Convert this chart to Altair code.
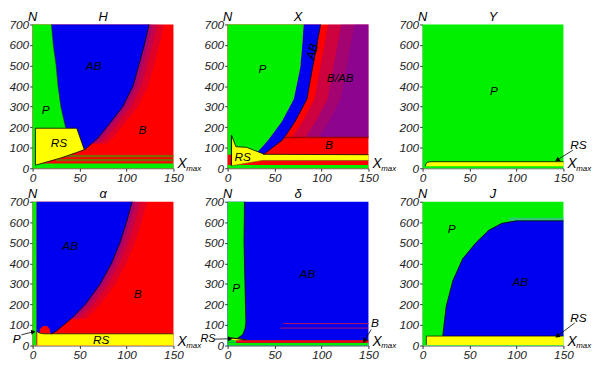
import altair as alt
import pandas as pd

# ---------------- colours / fonts ----------------
GREEN = "#00f000"
BLUE = "#0000f0"
RED = "#ff0000"
YEL = "#ffff00"
OLIVE = "#7d6800"
DKRED = "#a00000"
PURP = "#5a08d0"
FONT = "Liberation Sans"

# ---------------- data (x = X_max, n = N) ----------------
X_TICKS = [0, 50, 100, 150]
N_TICKS = [0, 100, 200, 300, 400, 500, 600, 700]
TITLES = ["H", "X", "Y", "α", "δ", "J"]

# --- panel H ---
H_P_N = [0, 90, 95, 150, 200, 300, 400, 500, 600, 700]
H_P_X = [3, 3, 50, 40, 35, 30, 27, 25, 22, 20]
H_AB_N = [92, 120, 150, 200, 300, 400, 500, 600, 700]
H_AB_L = [56, 50, 40, 35, 30, 27, 25, 22, 20]
H_AB_R = [56, 63, 70, 79, 96, 107, 113, 119, 124]
H_RS_X = [3, 30, 47, 55]
H_RS_TOP = [195, 195, 195, 91]
H_RS_BOT = [15, 50, 77, 91]
H_GREEN_N = [0, 23]
H_OLIVE_N = [[34, 45], [54, 64]]
H_OLIVE_X = [25, 150]

# --- panel X ---
X_P_N = [66, 80, 105, 136, 167, 229, 337, 490, 600, 700]
X_P_X = [30, 32, 37, 43, 48, 58, 70.5, 77.4, 79.5, 81]
X_AB_R = [38, 42, 49, 58, 63, 72, 84.5, 90.5, 95, 99]
X_BAB_N = [150, 167, 229, 337, 490, 600, 700]
X_BAB_L = [61, 63, 72, 84.5, 90.5, 95, 99]
X_RS_X = [4, 4.3, 8.8, 20, 37, 39, 150]
X_RS_TOP = [160, 160, 105, 102, 72, 68, 66]
X_RS_BOT = [12, 12.2, 15.8, 24.6, 38, 38, 38]
X_RED_N = [16, 38]
X_GREEN_N = [0, 16]

# --- panel Y ---
Y_RS_X = [3, 3.5, 5, 7, 10, 150]
Y_RS_TOP = [10, 22, 28, 31, 32, 32]
Y_RS_BOT = [10, 10, 10, 10, 10, 10]

# --- panel alpha ---
A_P_X = [0, 4]
A_AB_N = [57, 70, 130, 200, 300, 400, 500, 600, 700]
A_AB_R = [20, 25, 41, 56, 72, 84, 93, 100, 106]
A_BUMP_X = [7, 8, 10, 13, 16, 18, 19]
A_BUMP_TOP = [57, 80, 92, 96, 93, 82, 57]
A_RS_X = [5, 6, 8, 12, 150]
A_RS_TOP = [70, 64, 60, 57, 57]

# --- panel delta ---
D_P_N = [26, 37, 52, 80, 113, 200, 300, 500, 700]
D_P_X = [8, 11, 16, 18.5, 19.5, 19, 18.5, 17.5, 18]
D_RED_N = [14, 26]
D_RED_X = [9, 150]
D_RS_X = [3, 8, 20]
D_RS_TOP = [37, 35, 30]
D_RS_BOT = [31, 25, 28]
D_STREAK_N = [107, 85]
D_STREAK_X0 = [59, 56]

# --- panel J ---
J_AB_N = [46, 51, 190, 314, 422, 499, 561, 595, 607]
J_AB_L = [21.6, 21.6, 25.1, 32.1, 42.6, 56.5, 70.4, 84.4, 100]
J_FRINGE_N = [608, 622]
J_FRINGE_X = [92, 150]
J_RS_X = [4, 150]
J_RS_N = [3, 46]

# region labels: (text, x, n)
LAB_H = [("P", 14, 282), ("AB", 65, 499), ("RS", 28, 122), ("B", 117, 184)]
LAB_X = [("P", 37, 483), ("B/AB", 120, 437), ("B", 108, 111), ("RS", 16, 54)]
LAB_X_ROT = [("AB", 90, 568)]
LAB_Y = [("P", 76, 375), ("RS", 166, 111)]
LAB_A = [("AB", 40, 483), ("B", 112, 251), ("RS", 73, 26), ("P", -17, 30)]
LAB_D = [("P", 9, 282), ("AB", 85, 348), ("B", 157, 107)]
LAB_D_SMALL = [("RS", -21, 32)]
LAB_J = [("P", 31, 568), ("AB", 104, 308), ("RS", 166, 134)]

# arrows: (x0, n0, x1, n1)
ARR_Y = [(160, 88, 144, 42)]
ARR_A = [(-12, 52, 0, 66)]
ARR_D = [(-14, 31, 2, 33), (153, 78, 146, 26)]
ARR_J = [(162, 110, 144, 48)]

# ---------------- helpers ----------------
XS = alt.Scale(domain=[0, 150], nice=False, zero=False)
YS = alt.Scale(domain=[0, 700], nice=False, zero=False)
AXX = alt.Axis(values=X_TICKS, title=None, grid=False, labelFlush=False, labelOverlap=False)
AXY = alt.Axis(values=N_TICKS, title=None, grid=False, labelFlush=False, labelOverlap=False)


def X(f):
    return alt.X(f, type="quantitative", scale=XS, axis=AXX)


def Yc(f):
    return alt.Y(f, type="quantitative", scale=YS, axis=AXY)


def rects(rows):
    df = pd.DataFrame(rows, columns=["x", "x2", "n", "n2", "c"])
    return alt.Chart(df).mark_rect().encode(
        x=X("x"), x2="x2", y=Yc("n"), y2="n2", color=alt.Color("c:N", scale=None))


def harea(ns, lo, hi, color, opacity=1.0):
    df = pd.DataFrame({"n": ns, "lo": lo, "hi": hi})
    return alt.Chart(df).mark_area(orient="horizontal", color=color, opacity=opacity).encode(
        y=Yc("n"), x=X("lo"), x2="hi")


def varea(xs, top, bot, color):
    df = pd.DataFrame({"x": xs, "top": top, "bot": bot})
    return alt.Chart(df).mark_area(orient="vertical", color=color).encode(
        x=X("x"), y=Yc("top"), y2="bot")


def path(xs, ns, width=0.8, color="black"):
    df = pd.DataFrame({"x": xs, "n": ns, "i": list(range(len(xs)))})
    return alt.Chart(df).mark_line(color=color, strokeWidth=width).encode(
        x=X("x"), y=Yc("n"), order=alt.Order("i:Q"))


def labels(rows, angle=0, size=12):
    df = pd.DataFrame(rows, columns=["t", "x", "n"])
    kw = dict(font=FONT, fontStyle="italic", fontSize=size, color="black",
              align="center", baseline="middle")
    if angle:
        kw["angle"] = angle
    return alt.Chart(df).mark_text(**kw).encode(x=X("x"), y=Yc("n"), text="t:N")


def arrows(rows, angles):
    out = []
    for (x0, n0, x1, n1), ang in zip(rows, angles):
        out.append(path([x0, x1], [n0, n1], width=0.8))
        df = pd.DataFrame({"x": [x1], "n": [n1]})
        out.append(alt.Chart(df).mark_point(shape="triangle", filled=True, color="black",
                                             size=28, angle=ang, opacity=1).encode(
            x=X("x"), y=Yc("n")))
    return out


def fringe(ns, curve, bands):
    """Blue streak fringe just right of a boundary curve: bands = [(start, end, opacity)]."""
    out = []
    for a, b, op in bands:
        lo = [min(v + a, 150) for v in curve]
        hi = [min(v + b, 150) for v in curve]
        out.append(harea(ns, lo, hi, PURP, op))
    return out


def decor(title):
    t = pd.DataFrame({"x": [75], "n": [700], "t": [title]})
    nn = pd.DataFrame({"x": [0], "n": [700], "t": ["N"]})
    xm = pd.DataFrame({"x": [150], "n": [0], "t": ["X"]})
    mx = pd.DataFrame({"x": [150], "n": [0], "t": ["max"]})
    base = dict(font=FONT, fontStyle="italic", color="black", baseline="alphabetic")
    return [
        alt.Chart(t).mark_text(fontSize=13, dy=-4, **base).encode(x=X("x"), y=Yc("n"), text="t:N"),
        alt.Chart(nn).mark_text(fontSize=13, dy=-4, **base).encode(x=X("x"), y=Yc("n"), text="t:N"),
        alt.Chart(xm).mark_text(fontSize=14, dx=4, dy=0, align="left", **base).encode(x=X("x"), y=Yc("n"), text="t:N"),
        alt.Chart(mx).mark_text(fontSize=8, dx=13, dy=3, align="left", **base).encode(x=X("x"), y=Yc("n"), text="t:N"),
    ]


W, HGT = 143, 146


def panel(layers, title):
    return alt.layer(*layers, *decor(title)).properties(width=W, height=HGT)


FRINGE_BANDS = [(0, 4, 0.55), (4, 9, 0.35), (9, 16, 0.18)]

# ---------------- panel H ----------------
pH = panel([
    rects([(0, 150, 0, 700, RED),
           (0, 150, H_GREEN_N[0], H_GREEN_N[1], GREEN)] +
          [(H_OLIVE_X[0], H_OLIVE_X[1], a, b, OLIVE) for a, b in H_OLIVE_N]),
    *fringe(H_AB_N[1:], H_AB_R[1:], FRINGE_BANDS),
    harea(H_AB_N, H_AB_L, H_AB_R, BLUE),
    harea(H_P_N, [0] * len(H_P_N), H_P_X, GREEN),
    varea(H_RS_X, H_RS_TOP, H_RS_BOT, YEL),
    path(H_AB_R[::-1] + H_RS_X[2::-1], H_AB_N[::-1] + H_RS_BOT[2::-1]),
    path([H_RS_X[0], H_RS_X[0], H_RS_X[2], H_RS_X[3]],
         [H_RS_BOT[0], H_RS_TOP[0], H_RS_TOP[2], H_RS_TOP[3]]),
    path(H_AB_L[3:], H_AB_N[3:], width=0.5, color="#003300"),
    labels(LAB_H),
], "H")

# ---------------- panel X ----------------
pX = panel([
    rects([(0, 150, 0, 700, RED),
           (0, 150, X_GREEN_N[0], X_GREEN_N[1], GREEN)]),
    harea(X_BAB_N, [v + 8 for v in X_BAB_L], [150] * len(X_BAB_N), PURP, 0.3),
    harea(X_BAB_N, [v + 22 for v in X_BAB_L], [150] * len(X_BAB_N), PURP, 0.35),
    harea(X_BAB_N, [v + 36 for v in X_BAB_L], [150] * len(X_BAB_N), PURP, 0.3),
    harea(X_P_N, X_P_X, X_AB_R, BLUE),
    harea(X_P_N, [0] * len(X_P_N), X_P_X, GREEN),
    path([X_BAB_L[0], 150], [X_BAB_N[0], X_BAB_N[0]], width=1.5, color=DKRED),
    varea(X_RS_X, X_RS_TOP, X_RS_BOT, YEL),
    path(X_AB_R[::-1], X_P_N[::-1]),
    path([X_RS_X[0]] + X_RS_X[1:], [X_RS_BOT[0]] + X_RS_TOP[1:]),
    path([X_RS_X[0], X_RS_X[0]], [X_RS_BOT[0], X_RS_TOP[0]]),
    path([X_RS_X[0], X_RS_X[4], 150], [X_RS_BOT[0], X_RS_BOT[4], X_RS_BOT[6]], width=0.7, color="#7a5a00"),
    labels(LAB_X),
    labels(LAB_X_ROT, angle=285),
], "X")

# ---------------- panel Y ----------------
pY = panel([
    rects([(0, 150, 0, 700, GREEN)]),
    varea(Y_RS_X, Y_RS_TOP, Y_RS_BOT, YEL),
    path(Y_RS_X, Y_RS_TOP),
    labels(LAB_Y),
    *arrows(ARR_Y, [237]),
], "Y")

# ---------------- panel alpha ----------------
pA = panel([
    rects([(0, 150, 0, 700, RED)]),
    *fringe(A_AB_N[2:], A_AB_R[2:], FRINGE_BANDS),
    harea(A_AB_N, [A_P_X[1]] * len(A_AB_N), A_AB_R, BLUE),
    varea(A_BUMP_X, A_BUMP_TOP, [57] * len(A_BUMP_X), RED),
    rects([(A_P_X[0], A_P_X[1], 0, 700, GREEN)]),
    varea(A_RS_X, A_RS_TOP, [0] * len(A_RS_X), YEL),
    path(A_AB_R[::-1], A_AB_N[::-1]),
    path(A_RS_X, A_RS_TOP, width=0.7),
    labels(LAB_A),
    *arrows(ARR_A, [80]),
], "α")

# ---------------- panel delta ----------------
pD = panel([
    rects([(0, 150, 0, 700, BLUE),
           (0, 150, 0, D_RED_N[0], GREEN),
           (0, D_RED_X[0], D_RED_N[0], D_RED_N[1], GREEN),
           (D_RED_X[0], D_RED_X[1], D_RED_N[0], D_RED_N[1], RED)]),
    harea(D_P_N, [0] * len(D_P_N), D_P_X, GREEN),
    path(D_P_X, D_P_N),
    varea(D_RS_X, D_RS_TOP, D_RS_BOT, YEL),
    path(D_RS_X + [D_RS_X[0]], D_RS_TOP[:2] + [D_RS_BOT[2]] + [D_RS_TOP[0]], width=0.7),
    path([D_STREAK_X0[0], 150], [D_STREAK_N[0]] * 2, width=1, color="#b01060"),
    path([D_STREAK_X0[1], 150], [D_STREAK_N[1]] * 2, width=1, color="#b01060"),
    labels(LAB_D),
    labels(LAB_D_SMALL, size=11),
    *arrows(ARR_D, [90, 212]),
], "δ")

# ---------------- panel J ----------------
pJ = panel([
    rects([(0, 150, 0, 700, GREEN),
           (J_FRINGE_X[0], J_FRINGE_X[1], J_FRINGE_N[0], J_FRINGE_N[1], "#30c878")]),
    harea(J_AB_N, J_AB_L, [150] * len(J_AB_N), BLUE),
    rects([(J_RS_X[0], J_RS_X[1], J_RS_N[0], J_RS_N[1], YEL)]),
    path(J_AB_L + [150], J_AB_N + [J_AB_N[-1]]),
    path([J_RS_X[0], J_RS_X[0], 150], [J_RS_N[0], J_RS_N[1], J_RS_N[1]], width=0.7),
    labels(LAB_J),
    *arrows(ARR_J, [235]),
], "J")

chart = alt.concat(pH, pX, pY, pA, pD, pJ, columns=3,
                   spacing={"row": 34, "column": 55}, bounds="flush").properties(
    padding={"left": 0, "top": 0, "right": 0, "bottom": 0}
).configure_view(strokeWidth=0).configure_axis(
    labelFont=FONT, labelFontStyle="italic", labelFontSize=12, labelColor="#222",
    tickColor="#333", tickSize=3, labelPadding=1, domainColor="#333", domainWidth=0.8,
)

chart.save("out.html", embed_options={"renderer": "svg", "actions": False})
